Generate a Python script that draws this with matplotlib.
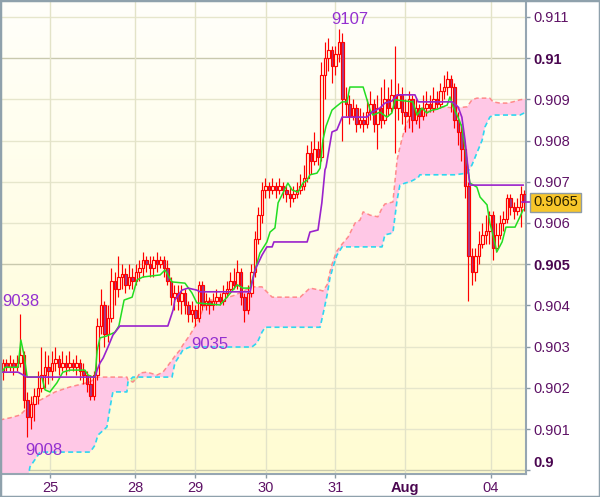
import numpy as np
import matplotlib.pyplot as plt
from matplotlib.colors import LinearSegmentedColormap
from matplotlib.patches import Rectangle
from matplotlib.transforms import blended_transform_factory

plt.rcParams['font.family'] = ['Liberation Sans', 'DejaVu Sans']

# hourly candles, prices in pips (x 1e-4)
opens = [9024, 9026, 9025, 9026, 9025, 9026, 9028, 9017, 9013, 9016,
         9018, 9020, 9023, 9025, 9024, 9026, 9027, 9025, 9026, 9025,
         9026, 9025, 9026, 9024, 9023, 9021, 9018, 9023, 9035, 9040,
         9033, 9037, 9046, 9044, 9047, 9047.5, 9045, 9047, 9046, 9048,
         9049, 9051, 9050, 9049, 9051, 9050, 9051, 9049, 9046, 9042,
         9043, 9041, 9043, 9040, 9038, 9039, 9037, 9045, 9040, 9041,
         9040, 9041, 9042, 9041, 9043, 9044, 9046, 9045, 9048, 9042,
         9039, 9043, 9048, 9056, 9062, 9068, 9069, 9068, 9069, 9068,
         9069, 9068, 9067, 9066, 9067, 9068, 9069, 9071, 9077, 9075,
         9078, 9076, 9096, 9100, 9102, 9098, 9101, 9104, 9090, 9089,
         9086, 9088, 9084, 9085, 9084, 9087, 9089, 9084, 9088, 9085,
         9090, 9088, 9091, 9088, 9091, 9087, 9086, 9090, 9085, 9088,
         9086, 9088, 9089, 9088, 9090, 9089, 9092, 9093, 9095, 9093,
         9085, 9082, 9078, 9069, 9052, 9048, 9052, 9055, 9057, 9058,
         9062, 9054, 9057, 9060, 9061, 9066, 9064, 9063, 9064, 9067]
closes = [9026, 9025, 9026, 9025, 9026, 9028, 9017, 9013, 9016, 9018,
          9020, 9023, 9025, 9024, 9026, 9027, 9025, 9026, 9025, 9026,
          9025, 9026, 9024, 9023, 9021, 9018, 9023, 9035, 9040, 9033,
          9037, 9046, 9044, 9047, 9047.5, 9045, 9047, 9046, 9048, 9049,
          9051, 9050, 9049, 9051, 9050, 9051, 9049, 9046, 9042, 9043,
          9041, 9043, 9040, 9038, 9039, 9037, 9045, 9040, 9041, 9040,
          9041, 9042, 9041, 9043, 9044, 9046, 9045, 9048, 9042, 9039,
          9043, 9048, 9056, 9062, 9068, 9069, 9068, 9069, 9068, 9069,
          9068, 9067, 9066, 9067, 9068, 9069, 9071, 9077, 9075, 9078,
          9076, 9096, 9100, 9102, 9098, 9101, 9104, 9090, 9089, 9086,
          9088, 9084, 9085, 9084, 9087, 9089, 9084, 9088, 9085, 9090,
          9088, 9091, 9088, 9091, 9087, 9086, 9090, 9085, 9088, 9086,
          9088, 9089, 9088, 9090, 9089, 9092, 9093, 9095, 9093, 9085,
          9082, 9078, 9069, 9052, 9048, 9052, 9055, 9057, 9058, 9062,
          9054, 9057, 9060, 9061, 9066, 9064, 9063, 9064, 9067, 9065]
highs = [9027, 9027, 9028, 9027, 9028, 9038, 9029, 9019, 9018, 9020,
         9024, 9030, 9029, 9028, 9029, 9030, 9028, 9029, 9028, 9029,
         9027, 9028, 9027, 9026, 9024, 9023, 9024, 9037, 9044, 9041,
         9040, 9049, 9048, 9052, 9050, 9049, 9050, 9049, 9050, 9051,
         9053, 9052, 9052, 9052, 9053, 9052, 9052, 9051, 9047, 9045,
         9045, 9045, 9044, 9041, 9041, 9040, 9046, 9046, 9043, 9042,
         9043, 9044, 9043, 9045, 9046, 9048, 9049, 9051, 9049, 9043,
         9045, 9050, 9058, 9064, 9070, 9071, 9070, 9071, 9070, 9071,
         9070, 9069, 9069, 9069, 9070, 9072, 9074, 9079, 9080, 9082,
         9080, 9099, 9104, 9105, 9103, 9103, 9107, 9106, 9093, 9091,
         9090, 9089, 9088, 9087, 9090, 9092, 9090, 9091, 9093, 9095,
         9093, 9095, 9103, 9094, 9093, 9090, 9092, 9091, 9090, 9089,
         9091, 9092, 9091, 9093, 9092, 9094, 9096, 9097, 9096, 9094,
         9087, 9084, 9079, 9070, 9054, 9054, 9058, 9060, 9062, 9063,
         9063, 9060, 9062, 9063, 9067, 9067, 9065, 9066, 9069, 9068]
lows = [9022, 9024, 9024, 9023, 9024, 9025, 9015, 9008, 9010, 9012,
        9016, 9019, 9020, 9021, 9022, 9024, 9023, 9024, 9023, 9024,
        9024, 9023, 9022, 9021, 9019, 9017, 9017, 9022, 9033, 9030,
        9031, 9036, 9040, 9042, 9044, 9043, 9044, 9044, 9045, 9046,
        9047, 9048, 9047, 9047, 9048, 9049, 9047, 9045, 9040, 9039,
        9039, 9038, 9038, 9036, 9036, 9035, 9036, 9039, 9039, 9038,
        9039, 9040, 9040, 9040, 9042, 9043, 9044, 9044, 9040, 9036,
        9038, 9042, 9047, 9055, 9060, 9066, 9066, 9067, 9066, 9067,
        9066, 9065, 9064, 9065, 9066, 9067, 9068, 9070, 9072, 9074,
        9074, 9075, 9090, 9097, 9094, 9096, 9099, 9080, 9086, 9084,
        9085, 9082, 9083, 9082, 9083, 9085, 9082, 9078, 9083, 9084,
        9086, 9087, 9077, 9085, 9084, 9082, 9083, 9082, 9084, 9083,
        9085, 9086, 9087, 9087, 9088, 9088, 9090, 9091, 9087, 9083,
        9079, 9075, 9066, 9041, 9045, 9046, 9050, 9054, 9055, 9055,
        9051, 9053, 9056, 9058, 9060, 9062, 9061, 9062, 9059, 9063]

# tenkan-sen (green) and kijun-sen (purple): (candle index, pips)
tenkan_x = [-0.9, 0.6, 4.3, 5.1, 6.0, 6.9, 11.1, 12.0, 13.4, 15.4, 17.1, 19.1, 23.4, 24.3,
            25.7, 26.3, 26.9, 27.7, 29.7, 32.0, 33.1, 34.6, 36.9, 38.3, 40.0, 44.9, 46.3,
            48.3, 52.0, 54.0, 55.4, 62.0, 64.0, 66.9, 68.6, 70.6, 72.0, 73.4, 75.4, 76.3,
            77.7, 78.6, 79.7, 81.4, 82.6, 84.3, 85.7, 86.9, 87.7, 89.7, 90.6, 91.4, 92.3,
            94.0, 95.4, 96.9, 98.3, 99.1, 102.9, 104.9, 105.7, 107.7, 109.7, 111.1, 112.0,
            117.1, 118.3, 119.7, 121.1, 122.6, 124.0, 125.7, 126.9, 127.7, 128.6, 130.0,
            131.1, 132.0, 132.9, 133.4, 135.4, 136.3, 138.3, 139.1, 140.0, 141.1, 142.6,
            143.7, 146.3, 147.7, 148.6]
tenkan_y = [9023.1, 9025.0, 9025.0, 9031.6, 9028.0, 9022.6, 9022.6, 9019.5, 9019.0, 9021.2,
            9023.8, 9024.3, 9024.3, 9023.1, 9022.6, 9022.6, 9029.0, 9032.1, 9032.6, 9033.5,
            9035.0, 9041.3, 9042.0, 9046.2, 9046.9, 9047.4, 9048.6, 9045.7, 9045.4, 9043.0,
            9040.6, 9040.1, 9042.0, 9045.0, 9044.2, 9044.2, 9048.6, 9052.7, 9055.4, 9057.8,
            9058.8, 9064.9, 9066.8, 9069.7, 9068.0, 9067.5, 9069.7, 9070.4, 9071.7, 9072.1,
            9073.3, 9080.1, 9083.5, 9087.4, 9088.4, 9089.4, 9089.4, 9093.0, 9093.0, 9087.4,
            9086.2, 9086.9, 9085.7, 9086.7, 9089.9, 9089.4, 9086.2, 9087.9, 9086.7, 9087.4,
            9087.6, 9088.2, 9088.6, 9090.6, 9088.2, 9085.7, 9083.3, 9078.4, 9072.9, 9069.7,
            9068.7, 9066.3, 9064.4, 9060.0, 9057.1, 9053.0, 9055.4, 9059.0, 9059.0, 9061.5,
            9063.2]
kijun_x = [-0.9, 4.3, 6.9, 26.3, 26.9, 27.7, 28.6, 30.0, 31.4, 33.4, 47.1, 48.6, 49.1, 51.1,
           52.9, 55.4, 56.3, 70.6, 72.0, 74.0, 75.4, 76.9, 77.4, 86.9, 87.7, 90.0, 91.1, 92.0,
           92.3, 94.0, 95.4, 96.9, 104.0, 105.4, 107.7, 109.1, 111.1, 112.6, 117.7, 118.6,
           128.3, 130.0, 131.1, 132.0, 132.9, 133.4, 148.6]
kijun_y = [9023.8, 9023.8, 9022.6, 9022.6, 9024.3, 9026.0, 9027.2, 9029.9, 9032.8, 9035.0,
           9035.0, 9038.9, 9041.3, 9043.7, 9044.2, 9043.7, 9043.3, 9043.3, 9048.6, 9052.2,
           9054.2, 9054.2, 9055.4, 9055.4, 9057.8, 9058.3, 9064.9, 9072.9, 9073.6, 9082.1,
           9082.6, 9085.7, 9085.7, 9086.9, 9087.9, 9089.1, 9089.6, 9091.1, 9091.1, 9089.4,
           9089.4, 9088.2, 9085.7, 9080.1, 9072.9, 9069.2, 9069.2]

# cloud: senkou span A (salmon) and span B (cyan)
cloud_x = [-0.9, 2.0, 4.9, 6.3, 7.1, 7.7, 10.6, 14.9, 19.1, 24.9, 26.3, 27.1, 29.7, 30.6,
           31.4, 35.4, 35.7, 37.1, 38.3, 39.1, 41.1, 44.0, 45.7, 48.3, 49.1, 50.6, 51.4,
           53.4, 55.4, 57.7, 59.1, 62.0, 66.3, 71.1, 72.6, 74.0, 74.9, 76.9, 84.9, 87.7,
           90.6, 91.4, 92.6, 93.4, 94.3, 95.4, 96.9, 98.6, 100.6, 102.0, 102.9, 104.9,
           107.1, 108.3, 109.1, 111.4, 112.6, 113.4, 114.9, 116.3, 118.6, 119.1, 122.9,
           125.7, 129.1, 132.6, 134.0, 135.4, 136.9, 137.7, 139.1, 140.0, 142.0, 144.0,
           145.7, 147.7, 149.4]
span_a = [9012.2, 9012.7, 9013.4, 9014.6, 9015.8, 9016.0, 9017.0, 9019.0, 9020.2, 9021.4,
          9022.4, 9022.6, 9022.6, 9022.6, 9022.6, 9022.6, 9021.9, 9021.4, 9022.4, 9023.6,
          9023.8, 9023.1, 9023.8, 9026.7, 9027.7, 9029.2, 9030.4, 9032.8, 9035.7, 9040.1,
          9041.3, 9041.3, 9042.5, 9044.5, 9044.5, 9044.5, 9043.7, 9042.0, 9042.0, 9044.2,
          9043.7, 9043.5, 9045.0, 9048.1, 9050.8, 9053.2, 9054.9, 9056.6, 9060.0, 9060.7,
          9062.7, 9061.9, 9061.5, 9063.6, 9064.6, 9065.1, 9075.3, 9078.4, 9083.3, 9085.7,
          9086.7, 9086.7, 9087.4, 9088.2, 9087.9, 9088.2, 9089.9, 9090.3, 9090.3, 9090.3,
          9090.3, 9089.4, 9089.1, 9089.1, 9089.4, 9089.9, 9090.1]
span_b = [8996.0, 8996.0, 8996.0, 8996.0, 8998.0, 9000.8, 9004.4, 9004.4, 9004.4, 9004.4,
          9006.1, 9008.5, 9010.5, 9015.3, 9019.0, 9019.0, 9021.4, 9022.6, 9022.6, 9022.6,
          9022.6, 9022.6, 9022.6, 9022.6, 9026.0, 9028.0, 9029.2, 9029.9, 9029.9, 9029.9,
          9029.9, 9029.9, 9029.9, 9029.9, 9030.9, 9033.5, 9034.7, 9034.7, 9034.7, 9034.7,
          9034.7, 9037.7, 9042.5, 9046.6, 9049.3, 9052.2, 9054.2, 9054.2, 9054.2, 9054.2,
          9054.2, 9054.2, 9054.2, 9054.2, 9057.1, 9057.6, 9065.6, 9069.2, 9069.7, 9070.0,
          9071.0, 9071.7, 9071.7, 9071.7, 9071.7, 9072.1, 9074.1, 9077.0, 9080.1, 9083.3,
          9085.7, 9086.2, 9086.2, 9086.2, 9086.2, 9086.2, 9086.9]

day_pos = [13.4, 37.7, 54.9, 75.1, 94.9, 114.9, 139.4]
day_labels = ['25', '28', '29', '30', '31', 'Aug', '04']
price_ticks = [0.911, 0.910, 0.909, 0.908, 0.907, 0.906, 0.905, 0.904, 0.903, 0.902, 0.901, 0.900]
price_labels = ['0.911', '0.91', '0.909', '0.908', '0.907', '0.906', '0.905',
                '0.904', '0.903', '0.902', '0.901', '0.9']
bold_ticks = ['0.91', '0.905', '0.9']
marks = [(96, 9107, '9107'), (5, 9038, '9038'), (55, 9035, '9035'), (7, 9008, '9008')]
last_price = '0.9065'

sc = 1e-4
o = np.array(opens) * sc
c = np.array(closes) * sc
h = np.array(highs) * sc
lo = np.array(lows) * sc
x = np.arange(len(o))
cx = np.array(cloud_x)
sa = np.array(span_a) * sc
sb = np.array(span_b) * sc

fig = plt.figure(figsize=(6.0, 4.97), dpi=100)
ax = fig.add_axes([1 / 600, 23 / 497, 525 / 600, 473 / 497])

bg = LinearSegmentedColormap.from_list('bg', ['#fffffa', '#fffcd2'])
ax.imshow(np.linspace(0, 1, 256).reshape(-1, 1), cmap=bg, extent=[0, 1, 0, 1],
          transform=ax.transAxes, aspect='auto', zorder=0)

# grid
for val, lab in zip(price_ticks, price_labels):
    ax.axhline(val, color='#c9c9ae' if lab in bold_ticks else '#e6e6cc', lw=1, zorder=1)
for p in day_pos:
    ax.axvline(p, color='#e3e3c8', lw=1, zorder=1)

# ichimoku cloud
ax.fill_between(cx, sa, sb, where=sa >= sb, interpolate=True, color='#ffc8e6', lw=0, zorder=2)
ax.fill_between(cx, sa, sb, where=sa < sb, interpolate=True, color='#c4f2a0', lw=0, zorder=2)
ax.plot(cx, sa, color='#ff8a8a', lw=1.1, ls=(0, (3, 2)), zorder=3)
ax.plot(cx, sb, color='#2fd6f0', lw=1.2, ls=(0, (3, 2)), zorder=3)

# candles
ax.vlines(x, lo, h, color='#ff0000', lw=0.85, zorder=4)
down = c < o
ax.bar(x, np.abs(c - o), bottom=np.minimum(o, c), width=0.7,
       color=np.where(down, '#a03c8c', '#fffce0'), edgecolor='#ff0000', lw=0.85, zorder=5)

ax.plot(tenkan_x, np.array(tenkan_y) * sc, color='#22dd22', lw=1.1, zorder=6)
ax.plot(kijun_x, np.array(kijun_y) * sc, color='#9a22cc', lw=1.2, zorder=6)

# high / low marks
offsets = {'9107': (8, 2, 'bottom'), '9038': (0, 3, 'bottom'),
           '9035': (10, -8, 'top'), '9008': (12, -4, 'top')}
for xi, val, txt in marks:
    dx, dy, va = offsets[txt]
    ax.annotate(txt, (xi, val * sc), xytext=(dx, dy), textcoords='offset points',
                ha='center', va=va, fontsize=12, color='#9430d0', zorder=7)

ax.set_xlim(-0.57, 149.43)
ax.set_ylim(0.899908, 0.911388)

ax.yaxis.tick_right()
ax.set_yticks(price_ticks)
ax.set_yticklabels(price_labels)
ax.set_xticks(day_pos)
ax.set_xticklabels(day_labels)
ax.tick_params(axis='both', length=3, width=1, color='#8a9aa6', labelsize=10.5,
               labelcolor='#5e1266')
ax.tick_params(axis='y', pad=2)
ax.tick_params(axis='x', pad=2)
for t in ax.get_yticklabels():
    if t.get_text() in bold_ticks:
        t.set_fontweight('bold')
        t.set_color('#4a0650')
    if t.get_text() == '0.9':
        t.set_va('bottom')
for t in ax.get_xticklabels():
    if t.get_text() == 'Aug':
        t.set_fontweight('bold')
        t.set_color('#4a0650')

for s in ['left', 'top']:
    ax.spines[s].set_visible(False)
for s in ['right', 'bottom']:
    ax.spines[s].set_color('#96a6b2')
    ax.spines[s].set_linewidth(1.5)

# last price tag
tr = blended_transform_factory(ax.transAxes, ax.transData)
ax.plot([1 - 4 / 525, 1 + 6 / 525], [float(last_price)] * 2, color='#9a22cc', lw=1.2,
        transform=tr, clip_on=False, zorder=8)
ax.text(1 + 7 / 525, float(last_price), last_price, transform=tr, ha='left', va='center',
        fontsize=10.5, color='#2a2000', zorder=9,
        bbox=dict(boxstyle='square,pad=0.18', fc='#f7c62a', ec='#8e9ba6', lw=1))

fig.patches.append(Rectangle((0, 0), 1, 1, transform=fig.transFigure, fill=False,
                             edgecolor='#8fa1ac', lw=2.5))

fig.savefig('out.png', dpi=100)
